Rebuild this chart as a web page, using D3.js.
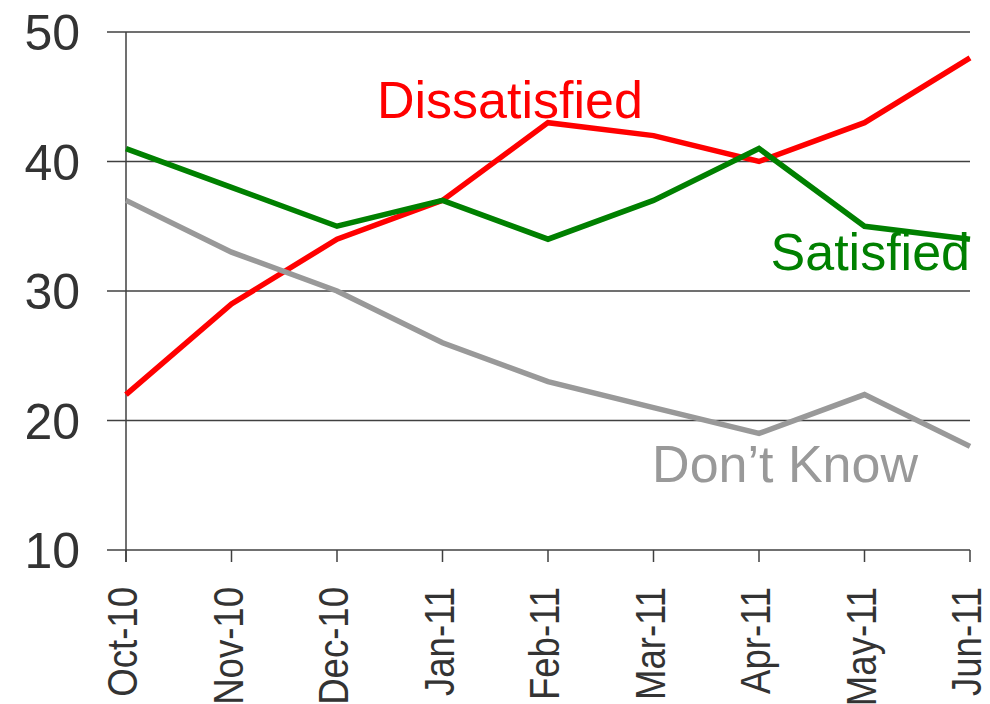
<!DOCTYPE html>
<html><head><meta charset="utf-8">
<script src="https://cdn.jsdelivr.net/npm/d3@7"></script>
<style>body{margin:0;background:#fff}svg{display:block}</style>
</head><body>
<script>
const months = ["Oct-10","Nov-10","Dec-10","Jan-11","Feb-11","Mar-11","Apr-11","May-11","Jun-11"];
const dissatisfied = [22,29,34,37,43,42,40,43,48];
const satisfied = [41,38,35,37,34,37,41,35,34];
const dontKnow = [37,33,30,26,23,21,19,22,18];
const yTicks = [10,20,30,40,50];
const series = [
  {name:"Dissatisfied", values:dissatisfied, color:"#ff0000", lx:377, ly:118, anchor:"start"},
  {name:"Satisfied", values:satisfied, color:"#008000", lx:970, ly:270, anchor:"end"},
  {name:"Don\u2019t Know", values:dontKnow, color:"#999999", lx:918, ly:482, anchor:"end"}
];

const W=990,H=704;
const svg=d3.select("body").append("svg").attr("width",W).attr("height",H);
const x=d3.scalePoint().domain(months).range([126,970]);
const y=d3.scaleLinear().domain([10,50]).range([550,32]);
const font="'Liberation Sans', Arial, sans-serif";

// gridlines
svg.append("g").selectAll("line").data(yTicks).join("line")
  .attr("x1",107).attr("x2",970).attr("y1",d=>y(d)).attr("y2",d=>y(d))
  .attr("stroke","#404040").attr("stroke-width",1.5);
// y axis line
svg.append("line").attr("x1",x(months[0])).attr("x2",x(months[0]))
  .attr("y1",y(50)).attr("y2",y(10)+12).attr("stroke","#404040").attr("stroke-width",1.5);
// x ticks
svg.append("g").selectAll("line").data(months).join("line")
  .attr("x1",d=>x(d)).attr("x2",d=>x(d)).attr("y1",y(10)).attr("y2",y(10)+12)
  .attr("stroke","#404040").attr("stroke-width",1.5);
// y labels
svg.append("g").selectAll("text").data(yTicks).join("text")
  .attr("x",80).attr("y",d=>y(d)).attr("dy","0.36em").attr("text-anchor","end")
  .attr("font-family",font).attr("font-size",50).attr("fill","#333")
  .text(d=>d);
// x labels
svg.append("g").selectAll("text").data(months).join("text")
  .attr("transform",d=>`translate(${x(d)+11},587) rotate(-90) scale(0.85,1)`)
  .attr("text-anchor","end")
  .attr("font-family",font).attr("font-size",43).attr("fill","#333")
  .text(d=>d);

const line=d3.line().x((d,i)=>x(months[i])).y(d=>y(d));
svg.append("g").selectAll("path").data(series).join("path")
  .attr("d",d=>line(d.values)).attr("fill","none")
  .attr("stroke",d=>d.color).attr("stroke-width",5.5).attr("stroke-linejoin","miter");

svg.append("g").selectAll("text").data(series).join("text")
  .attr("x",d=>d.lx).attr("y",d=>d.ly).attr("text-anchor",d=>d.anchor)
  .attr("font-family",font).attr("font-size",52).attr("fill",d=>d.color)
  .text(d=>d.name);
</script>
</body></html>
